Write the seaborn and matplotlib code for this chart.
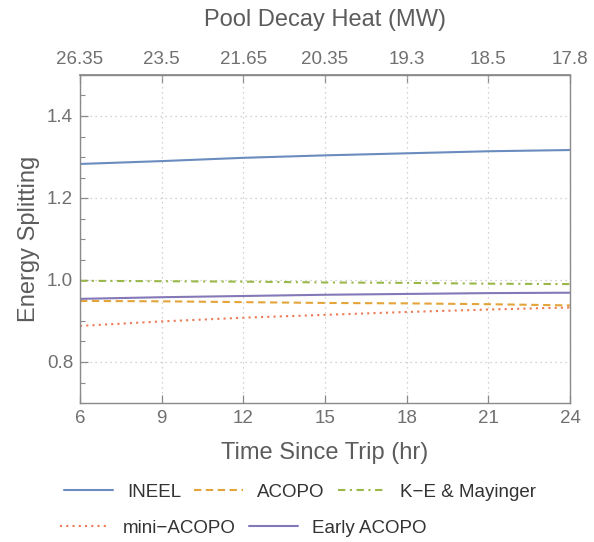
import numpy as np
import pandas as pd
import matplotlib
matplotlib.use("Agg")
import matplotlib.pyplot as plt
from matplotlib.lines import Line2D
from matplotlib.ticker import MultipleLocator
import seaborn as sns

# ---------------- data ----------------
time_hr = [6, 9, 12, 15, 18, 21, 24]
ineel = [1.283, 1.290, 1.298, 1.304, 1.309, 1.314, 1.317]
acopo = [0.949, 0.948, 0.946, 0.944, 0.943, 0.941, 0.938]
ke_mayinger = [0.998, 0.997, 0.996, 0.994, 0.993, 0.991, 0.990]
mini_acopo = [0.888, 0.899, 0.908, 0.915, 0.922, 0.928, 0.933]
early_acopo = [0.954, 0.958, 0.961, 0.964, 0.966, 0.968, 0.969]

series_names = ["INEEL", "ACOPO", "K\u2212E & Mayinger", "mini\u2212ACOPO", "Early ACOPO"]
series_values = [ineel, acopo, ke_mayinger, mini_acopo, early_acopo]

x_ticks = [6, 9, 12, 15, 18, 21, 24]
heat_tick_labels = ["26.35", "23.5", "21.65", "20.35", "19.3", "18.5", "17.8"]
y_ticks = [0.8, 1.0, 1.2, 1.4]

# ---------------- styles ----------------
colors = {
    series_names[0]: "#6a8cbf",
    series_names[1]: "#e4a43a",
    series_names[2]: "#9ab848",
    series_names[3]: "#ec7a55",
    series_names[4]: "#8478b8",
}
dashes = {
    series_names[0]: "",
    series_names[1]: (3.5, 2.2),
    series_names[2]: (3.5, 2.2, 1.0, 2.2),
    series_names[3]: (1.0, 2.0),
    series_names[4]: "",
}

rows = []
for name, vals in zip(series_names, series_values):
    for t, v in zip(time_hr, vals):
        rows.append({"time": t, "value": v, "model": name})
df = pd.DataFrame(rows)

sns.set_theme(style="white")
plt.rcParams["font.family"] = ["Liberation Sans", "DejaVu Sans"]

text_col = "#5c5c5c"
tick_col = "#707070"
frame_col = "#8a8a8a"

fig = plt.figure(figsize=(5.94, 5.42), dpi=100)
ax = fig.add_axes([80 / 594, 1 - 403 / 542, 490 / 594, 328 / 542])

sns.lineplot(data=df, x="time", y="value", hue="model", style="model",
             palette=colors, dashes=dashes, hue_order=series_names,
             style_order=series_names, linewidth=1.5, errorbar=None,
             legend=False, ax=ax)

ax.set_xlim(6, 24)
ax.set_ylim(0.7, 1.5)
ax.set_xticks(x_ticks)
ax.set_yticks(y_ticks)
ax.yaxis.set_minor_locator(MultipleLocator(0.05))
ax.set_yticklabels([f"{v:.1f}" for v in y_ticks])

ax.grid(True, which="major", linestyle=(0, (1, 3)), color="#c4c4c4", linewidth=0.9)
for s in ax.spines.values():
    s.set_color(frame_col)
    s.set_linewidth(1.0)

ax.tick_params(axis="both", which="major", direction="in", length=6, width=0.9,
               color=frame_col, labelcolor=tick_col, labelsize=13.5,
               top=False, right=False, left=True, bottom=True, pad=5)
ax.tick_params(axis="y", which="minor", direction="in", length=3.5, width=0.8,
               color=frame_col, left=True, right=False)

ax.set_xlabel("Time Since Trip (hr)", fontsize=17, color=text_col, labelpad=11)
ax.set_ylabel("Energy Splitting", fontsize=17, color=text_col, labelpad=5)

sec = ax.secondary_xaxis("top")
sec.set_xticks(x_ticks)
sec.set_xticklabels(heat_tick_labels)
sec.tick_params(axis="x", direction="in", length=6, width=0.9, color=frame_col,
                labelcolor=tick_col, labelsize=13.5, pad=5)
sec.spines["top"].set_color(frame_col)
sec.set_xlabel("Pool Decay Heat (MW)", fontsize=17, color=text_col, labelpad=18)

def handle(name):
    d = dashes[name]
    ls = "-" if d == "" else (0, d)
    return Line2D([], [], color=colors[name], linestyle=ls, linewidth=1.5)

row1 = series_names[:3]
row2 = series_names[3:]
leg_kw = dict(frameon=False, fontsize=13.5, handlelength=2.6, handletextpad=0.75,
              columnspacing=0.7, borderpad=0, borderaxespad=0, labelcolor="#333333")
fig.legend([handle(n) for n in row1], row1, ncol=3, loc="center left",
           bbox_to_anchor=(64 / 594, 1 - 492 / 542), **leg_kw)
fig.legend([handle(n) for n in row2], row2, ncol=2, loc="center left",
           bbox_to_anchor=(60 / 594, 1 - 528 / 542), **leg_kw)

fig.savefig("out.png", dpi=100)
